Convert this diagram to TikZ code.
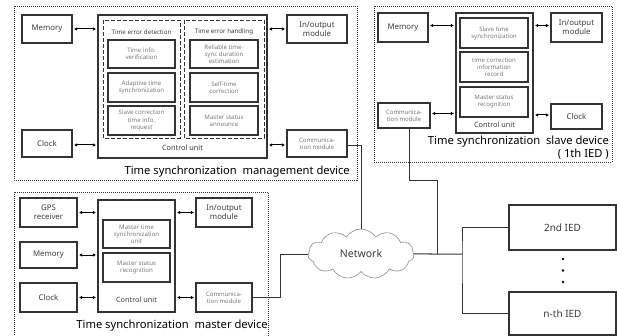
\documentclass[tikz,border=0pt]{standalone}
\usepackage{fontspec}
\setmainfont{Noto Sans}
\usetikzlibrary{arrows.meta,shapes.symbols}
\newcommand{\mybox}[7][]{%
  \pgfmathsetmacro{\bw}{#5-#3}\pgfmathsetmacro{\bh}{#6-#4}%
  \node[box,#1,minimum width=\bw pt,minimum height=\bh pt] (#2) at ({(#3+#5)/2},{(#4+#6)/2}) {#7};}
\definecolor{ln}{HTML}{333333}
\definecolor{tx}{HTML}{3A3A3A}
\definecolor{gtx}{HTML}{777777}
\tikzset{
  box/.style={draw=ln,line width=1.1pt,inner sep=1pt,outer sep=0pt,align=center,text=tx,font=\fontsize{7.8}{9.2}\selectfont},
  inner/.style={text=gtx,font=\fontsize{6.1}{7.1}\selectfont},
  small/.style={text=gtx,font=\fontsize{6}{7.2}\selectfont},
  device/.style={draw=ln,line width=0.6pt,dash pattern=on 1pt off 1pt},
  grp/.style={draw=ln,line width=0.9pt,dash pattern=on 4pt off 2pt},
  biarrow/.style={line width=1pt,draw=black,{Latex[length=3.2pt,width=3.6pt]}-{Latex[length=3.2pt,width=3.6pt]},shorten <=2pt,shorten >=2pt},
  wire/.style={line width=0.7pt,draw=ln},
  title/.style={font=\fontsize{11.2}{13}\selectfont,text=black,inner sep=0pt},
  hdr/.style={font=\bfseries\fontsize{6.2}{7}\selectfont,text=tx,inner sep=0pt},
  cul/.style={font=\fontsize{7.3}{8.5}\selectfont,text=tx},
  ied/.style={font=\fontsize{10}{12}\selectfont},
}
\begin{document}
\begin{tikzpicture}[x=1pt,y=-1pt]
\useasboundingbox (0,0) rectangle (617,336);
% ---------------- management device
\draw[device] (14,6) rectangle (357,180);
\mybox{mMem}{22}{15}{72}{43}{Memory}
\mybox{mClk}{22}{130}{72}{157}{Clock}
\mybox{mCU}{98}{15}{267}{158}{}
\draw[grp] (103,20) rectangle (180,138);
\draw[grp] (184,20) rectangle (264,138);
\node[hdr] (mH1) at (141.5,32) {Time error detection};
\node[hdr] (mH2) at (224,32) {Time error handling};
\mybox[inner]{mA1}{108}{40}{175}{68}{Time info.\\verification}
\mybox[inner]{mA2}{108}{73}{175}{102}{Adaptive time\\synchronization}
\mybox[inner]{mA3}{108}{106}{175}{135}{Slave correction\\time info.\\request}
\mybox[inner]{mB1}{190}{40}{258}{68}{Reliable time-\\sync duration\\estimation}
\mybox[inner]{mB2}{190}{73}{258}{102}{Self-time\\correction}
\mybox[inner]{mB3}{190}{106}{258}{135}{Master status\\announce}
\node[cul] (mCUl) at (182.5,148) {Control unit};
\mybox{mIO}{287}{15}{347}{43}{In/output\\module}
\mybox[small]{mCom}{287}{130}{347}{157}{Communica-\\tion module}
\node[title,anchor=east] (mT) at (350,172) {Time synchronization\ \ management device};
\draw[biarrow] (mMem.east) -- (mMem.east -| mCU.west);
\draw[biarrow] ([yshift=-1.5pt]mClk.east) -- ([yshift=-1.5pt]mClk.east -| mCU.west);
\draw[biarrow] (mIO.west) -- (mIO.west -| mCU.east);
\draw[biarrow] ([yshift=-1.5pt]mCom.west) -- ([yshift=-1.5pt]mCom.west -| mCU.east);
% ---------------- slave device
\draw[device] (374,6) rectangle (612,162);
\mybox{sMem}{378}{13}{428}{42}{Memory}
\mybox{sCU}{456}{13}{533}{133}{}
\mybox[inner]{sA1}{460}{18}{528}{48}{Slave time\\synchronization}
\mybox[inner]{sA2}{460}{52}{528}{82}{time correction\\information\\record}
\mybox[inner]{sA3}{460}{87}{528}{117}{Master status\\recognition}
\node[cul] (sCUl) at (494.5,125) {Control unit};
\mybox{sIO}{551}{13}{602}{42}{In/output\\module}
\mybox[small]{sCom}{378}{103}{430}{128}{Communica-\\tion module}
\mybox{sClk}{551}{104}{602}{129}{Clock}
\node[title,anchor=north east,align=right] (sT) at (609,136) {Time synchronization\ \ slave device\\( 1th IED )};
\draw[biarrow] ([yshift=2pt]sMem.east) -- ([yshift=2pt]sMem.east -| sCU.west);
\draw[biarrow] ([yshift=2pt]sIO.west) -- ([yshift=2pt]sIO.west -| sCU.east);
\draw[biarrow] ([yshift=2pt]sCom.east) -- ([yshift=2pt]sCom.east -| sCU.west);
\draw[biarrow] ([yshift=1.5pt]sClk.west) -- ([yshift=1.5pt]sClk.west -| sCU.east);
% ---------------- master device
\draw[device] (14,192) rectangle (268,340);
\mybox{gGPS}{20}{198}{77}{227}{GPS\\receiver}
\mybox{gMem}{20}{242}{77}{268}{Memory}
\mybox{gClk}{20}{283}{77}{312}{Clock}
\mybox{gCU}{98}{200}{175}{312}{}
\mybox[inner]{gA1}{103}{220}{170}{248}{Master time\\synchronization\\unit}
\mybox[inner]{gA2}{103}{253}{170}{282}{Master status\\recognition}
\node[cul] (gCUl) at (136.5,300) {Control unit};
\mybox{gIO}{196}{198}{252}{227}{In/output\\module}
\mybox[small]{gCom}{196}{283}{252}{312}{Communica-\\tion module}
\node[title,anchor=east] (gT) at (268,326) {Time synchronization\ \ master device};
\draw[biarrow] (gGPS.east) -- (gGPS.east -| gCU.west);
\draw[biarrow] (gMem.east) -- (gMem.east -| gCU.west);
\draw[biarrow] (gClk.east) -- (gClk.east -| gCU.west);
\draw[biarrow] (gIO.west) -- (gIO.west -| gCU.east);
\draw[biarrow] (gCom.west) -- (gCom.west -| gCU.east);
% ---------------- network
\node[cloud,cloud puffs=11,cloud puff arc=115,aspect=2.1,draw=black!45,line width=0.6pt,
  minimum width=106pt,minimum height=50pt,inner sep=0pt,font=\fontsize{10.5}{12}\selectfont,text=tx] (net) at (361,254) {Network};
\mybox[ied]{ied2}{509}{205}{616}{250}{2nd IED}
\mybox[ied]{iedn}{509}{292}{616}{335}{n-th IED}
\node[circle,fill=black,inner sep=0pt,minimum size=2.6pt] (d1) at (563,259) {};
\node[circle,fill=black,inner sep=0pt,minimum size=2.6pt] (d2) at (563,270.5) {};
\node[circle,fill=black,inner sep=0pt,minimum size=2.6pt] (d3) at (563,282) {};
\coordinate (j1) at (437,254);
\coordinate (j2) at (462,254);
\draw[wire] ([yshift=-1.5pt]mCom.east) -| (net.north);
\draw[wire] ([xshift=5pt]sCom.south) |- (437,180) -- (j1);
\draw[wire] (gCom.east) -- (280,297.5) |- (net.west);
\draw[wire,line width=1pt] (net.east) -- (j2);
\draw[wire] (ied2.west) -| (j2) |- (iedn.west);
\end{tikzpicture}
\end{document}
